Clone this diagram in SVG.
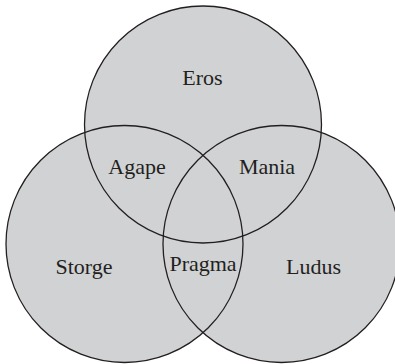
<svg xmlns="http://www.w3.org/2000/svg" width="395" height="364" viewBox="0 0 395 364">
<style>
.fill{fill:#d1d2d4;stroke:none}
.ring{fill:none;stroke:#231f20;stroke-width:1.3}
.lbl{font-family:"Liberation Serif","Times New Roman",serif;font-size:22px;fill:#231f20;text-anchor:middle}
</style>
<rect width="395" height="364" fill="#ffffff"/>
<g id="fills">
<circle class="fill" cx="203" cy="124.5" r="118.5"/>
<circle class="fill" cx="124.5" cy="244" r="118.5"/>
<circle class="fill" cx="281.5" cy="244" r="118.5"/>
</g>
<g id="eros">
<circle class="ring" cx="203" cy="124.5" r="118.5"/>
<text class="lbl" x="202.5" y="85">Eros</text>
</g>
<g id="storge">
<circle class="ring" cx="124.5" cy="244" r="118.5"/>
<text class="lbl" x="84" y="274">Storge</text>
</g>
<g id="ludus">
<circle class="ring" cx="281.5" cy="244" r="118.5"/>
<text class="lbl" x="313.5" y="274">Ludus</text>
</g>
<g id="agape">
<text class="lbl" x="137" y="174">Agape</text>
</g>
<g id="mania">
<text class="lbl" x="267" y="174">Mania</text>
</g>
<g id="pragma">
<text class="lbl" x="203" y="271">Pragma</text>
</g>
</svg>
